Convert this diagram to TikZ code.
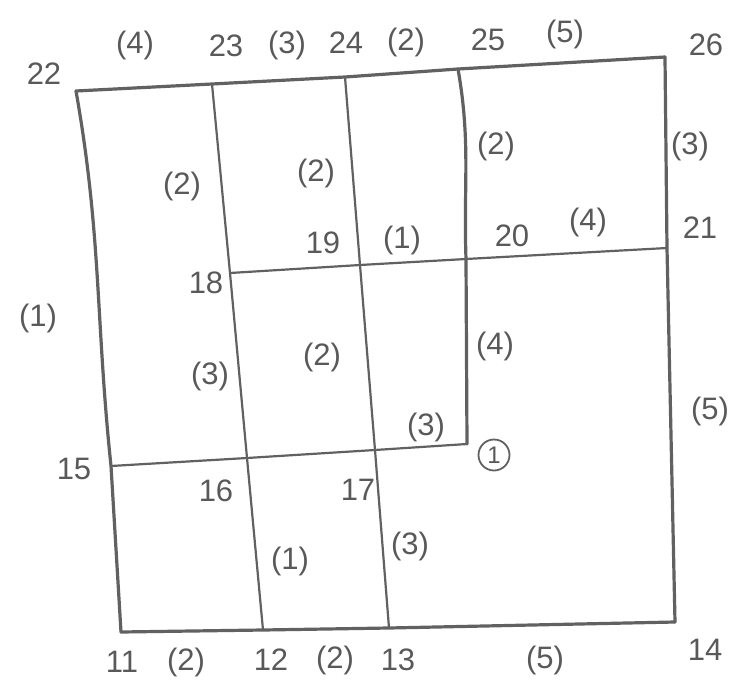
\documentclass[tikz,border=0pt]{standalone}
\usepackage{fontspec}
\setmainfont{Liberation Sans}
\begin{document}
\begin{tikzpicture}[x=1pt,y=-1pt,
  edge/.style={draw=black!62,line width=3.2pt,line cap=round,line join=round},
  thin edge/.style={draw=black!62,line width=2.2pt,line cap=round},
  lbl/.style={text=black!65,font=\fontsize{31}{34}\selectfont,inner sep=0pt}]
\useasboundingbox (0,0) rectangle (740,683);
% corner / joint points
\coordinate (p22) at (76,91);
\coordinate (p23) at (212,84);
\coordinate (p24) at (345,77);
\coordinate (p25) at (458,69);
\coordinate (p26) at (665,57);
\coordinate (p18) at (230,273);
\coordinate (p19) at (360,265);
\coordinate (p20) at (466,259);
\coordinate (p21) at (667,248);
\coordinate (p15) at (111,466);
\coordinate (p16) at (247,458);
\coordinate (p17) at (375,450);
\coordinate (p1)  at (467,444);
\coordinate (p11) at (121,632);
\coordinate (p12) at (263,630);
\coordinate (p13) at (389,628);
\coordinate (p14) at (675,622);
% outer boundary
\draw[edge] (p22) -- (p23) -- (p24) -- (p25) -- (p26);
\draw[edge] (p26) -- (p21) -- (p14);
\draw[edge] (p11) -- (p12) -- (p13) -- (p14);
\draw[edge] (p22) to[out=-80,in=96] (p15) -- (p11);
% interior lines
\draw[thin edge] (p23) -- (p18) -- (p16) -- (p12);
\draw[thin edge] (p24) -- (p19) -- (p17) -- (p13);
\draw[edge] (p25) to[out=-80,in=92] (p20) -- (p1);
\draw[thin edge] (p18) -- (p19) -- (p20) -- (p21);
\draw[thin edge] (p15) -- (p16) -- (p17) -- (p1);
% labels
\node[lbl] (t22) at (44,74) {22};
\node[lbl] (e1) at (135,45) {(4)};
\node[lbl] (t23) at (226,46) {23};
\node[lbl] (e2) at (287,45) {(3)};
\node[lbl] (t24) at (346,43) {24};
\node[lbl] (e3) at (406,42) {(2)};
\node[lbl] (t25) at (488,40) {25};
\node[lbl] (e4) at (565,34) {(5)};
\node[lbl] (t26) at (706,45) {26};
\node[lbl] (e5) at (182,186) {(2)};
\node[lbl] (e6) at (316,173) {(2)};
\node[lbl] (e7) at (496,146) {(2)};
\node[lbl] (e8) at (690,146) {(3)};
\node[lbl] (t19) at (323,243) {19};
\node[lbl] (e9) at (402,240) {(1)};
\node[lbl] (t20) at (512,236) {20};
\node[lbl] (e10) at (588,222) {(4)};
\node[lbl] (t21) at (700,228) {21};
\node[lbl] (t18) at (206,283) {18};
\node[lbl] (e11) at (38,318) {(1)};
\node[lbl] (e12) at (322,357) {(2)};
\node[lbl] (e13) at (495,346) {(4)};
\node[lbl] (e14) at (210,376) {(3)};
\node[lbl] (e15) at (710,411) {(5)};
\node[lbl] (e16) at (426,427) {(3)};
\node[lbl,draw=black!62,line width=1.8pt,circle,minimum size=31pt,font=\fontsize{24}{26}\selectfont] (c1) at (494,455) {1};
\node[lbl] (t15) at (74,469) {15};
\node[lbl] (t16) at (216,491) {16};
\node[lbl] (t17) at (358,490) {17};
\node[lbl] (e17) at (290,561) {(1)};
\node[lbl] (e18) at (410,546) {(3)};
\node[lbl] (t11) at (122,662) {11};
\node[lbl] (e19) at (186,662) {(2)};
\node[lbl] (t12) at (271,660) {12};
\node[lbl] (e20) at (335,660) {(2)};
\node[lbl] (t13) at (398,660) {13};
\node[lbl] (e21) at (545,660) {(5)};
\node[lbl] (t14) at (705,650) {14};
\end{tikzpicture}
\end{document}
